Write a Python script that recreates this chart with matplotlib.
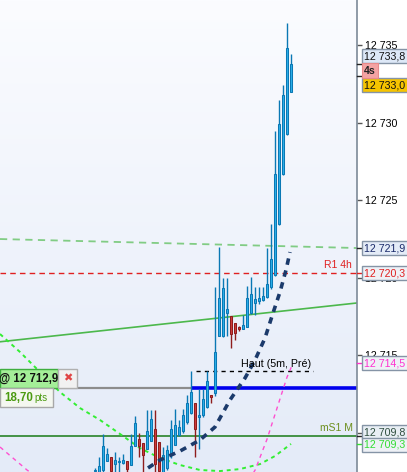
import matplotlib
matplotlib.use("Agg")
import matplotlib.pyplot as plt
import numpy as np
from matplotlib.patches import Rectangle
from matplotlib.colors import LinearSegmentedColormap
from matplotlib.transforms import blended_transform_factory

plt.rcParams['font.family'] = ['Liberation Sans', 'DejaVu Sans']

# 4 s candles, left to right
opens = [12707.55, 12707.49, 12707.62, 12708.21, 12708.45, 12708.00, 12708.11, 12708.09, 12708.19, 12707.96,
         12709.16, 12709.61, 12709.36, 12708.97, 12709.48, 12710.26, 12709.42, 12707.49, 12707.75, 12708.61,
         12709.25, 12709.89, 12710.13, 12710.71, 12711.31, 12711.95, 12711.05, 12711.14, 12711.69, 12712.47,
         12712.58, 12716.25, 12716.25, 12717.73, 12717.54, 12717.11, 12716.85, 12716.72, 12716.85, 12717.75,
         12718.38, 12718.50, 12718.57, 12718.76, 12719.41, 12720.18, 12723.47, 12726.69, 12729.27, 12731.99]
closes = [12707.65, 12707.87, 12709.16, 12708.65, 12707.55, 12708.26, 12708.21, 12708.26, 12707.70, 12709.16,
          12710.64, 12709.16, 12708.61, 12710.13, 12710.90, 12708.00, 12707.55, 12708.58, 12708.90, 12710.26,
          12710.52, 12710.39, 12711.18, 12711.95, 12712.64, 12710.26, 12711.14, 12712.21, 12713.35, 12712.34,
          12715.22, 12718.70, 12719.34, 12717.99, 12716.38, 12716.46, 12716.72, 12716.96, 12718.70, 12718.96,
          12718.63, 12718.70, 12718.83, 12719.60, 12721.21, 12726.69, 12729.91, 12731.78, 12734.81, 12733.80]
highs = [12707.75, 12708.47, 12709.94, 12709.03, 12708.45, 12708.80, 12708.47, 12708.65, 12708.19, 12709.94,
         12711.08, 12710.00, 12709.36, 12711.48, 12711.48, 12711.48, 12709.42, 12709.10, 12709.20, 12710.84,
         12711.55, 12710.84, 12711.55, 12712.47, 12713.98, 12711.95, 12712.85, 12712.85, 12713.98, 12712.47,
         12719.41, 12722.00, 12719.99, 12719.99, 12717.54, 12717.11, 12716.90, 12717.60, 12719.47, 12720.05,
         12719.41, 12719.41, 12719.41, 12721.92, 12723.47, 12729.48, 12731.46, 12732.42, 12736.44, 12734.42]
lows = [12707.40, 12707.40, 12707.50, 12708.21, 12707.40, 12707.49, 12707.49, 12708.00, 12707.49, 12707.96,
        12709.16, 12708.47, 12707.49, 12708.97, 12709.48, 12707.29, 12707.30, 12707.30, 12707.60, 12708.40,
        12709.25, 12709.80, 12710.00, 12710.60, 12711.20, 12708.47, 12708.99, 12711.05, 12711.60, 12711.93,
        12712.40, 12716.25, 12716.20, 12716.25, 12715.48, 12715.99, 12716.60, 12716.70, 12716.80, 12717.70,
        12717.60, 12718.30, 12718.50, 12718.70, 12719.30, 12720.10, 12723.40, 12726.60, 12729.20, 12731.99]

# levels
r1_4h = 12720.3
ms1_m = 12709.8
entry_price = 12712.9
entry_bar = 24.5
gain_pts = "18,70"
high_5m = 12713.98
high_5m_span = [25.25, 54.5]

trend_line_x = [-23.75, 65.5]
trend_line_y = [12715.88, 12718.38]
trend_dash_x = [-23.75, 65.5]
trend_dash_y = [12722.50, 12721.92]

navy_x = [13.25, 16.25, 21.25, 26.25, 30.0, 33.75, 37.5, 40.0, 42.5, 44.5, 46.25, 47.75, 48.75]
navy_y = [12707.75, 12708.26, 12708.84, 12709.55, 12710.39, 12712.13, 12713.54, 12714.70, 12716.12,
          12717.73, 12719.09, 12720.50, 12721.66]
lime_x = [-23.75, -18.75, -13.75, -8.75, -3.75, 1.25, 6.25, 11.25, 16.25, 21.25, 26.25, 31.25, 36.25,
          41.25, 45.0, 49.0]
lime_y = [12716.38, 12715.22, 12713.93, 12712.64, 12711.61, 12710.84, 12709.94, 12709.03, 12708.39,
          12707.94, 12707.62, 12707.55, 12707.68, 12708.00, 12708.52, 12709.30]
pink_x = [-23.75, -17.0, -10.0, 0.0, 10.0, 20.0, 30.0, 36.0, 40.0, 43.0, 46.0, 48.0, 49.5]
pink_y = [12709.10, 12707.62, 12706.30, 12705.00, 12704.30, 12704.00, 12704.60, 12706.00, 12707.60,
          12709.60, 12712.00, 12713.60, 12714.50]

tick_prices = [12710, 12715, 12720, 12725, 12730, 12735]

X0, X1 = -23.75, 65.5
Y0, Y1 = 12707.49, 12737.90
ppx = (Y1 - Y0) / 472.0   # price per pixel
bpx = (X1 - X0) / 357.0   # bars per pixel

fig = plt.figure(figsize=(4.07, 4.72), dpi=100)
fig.patch.set_facecolor('white')
ax = fig.add_axes([0, 0, 357 / 407, 1])

bg = LinearSegmentedColormap.from_list('bg', ['#fbfcff', '#e4ebf8'])
ax.imshow(np.linspace(0, 1, 256).reshape(-1, 1), cmap=bg, extent=[X0, X1, Y0, Y1],
          aspect='auto', origin='upper', zorder=0)

# levels and trend lines
ax.plot(trend_dash_x, trend_dash_y, color='#5cc05c', lw=1.3, ls=(0, (4, 3)), alpha=0.75, zorder=1)
ax.plot(trend_line_x, trend_line_y, color='#4cb84c', lw=1.2, zorder=1)
ax.axhline(r1_4h, color='#e02020', lw=1, ls=(0, (4, 3)), zorder=1)
ax.axhline(ms1_m, color='#177a17', lw=1.1, zorder=1)
ax.plot([X0, entry_bar], [entry_price, entry_price], color='#8c8c8c', lw=1.6, zorder=1)
ax.plot([entry_bar, X1], [entry_price, entry_price], color='#0000ee', lw=2.6, zorder=2)
ax.plot(high_5m_span, [high_5m, high_5m], color='black', lw=1, ls=(0, (3, 3)), zorder=2)

ax.plot(lime_x, lime_y, color='#33ee33', lw=1.4, ls=(0, (2, 2)), zorder=2)
ax.plot(pink_x, pink_y, color='#ff4fd0', lw=1, ls=(0, (3, 3)), zorder=2)

# candles
for i, (o, h, l, c) in enumerate(zip(opens, highs, lows, closes)):
    up = c >= o
    fc = '#2cb0ea' if up else '#d03c3c'
    ec = '#0a78b4' if up else '#8e1d1d'
    ax.vlines(i, l, h, color=ec, lw=1.0, zorder=3)
    ax.add_patch(Rectangle((i - 0.25, min(o, c)), 0.5, max(abs(c - o), 0.07),
                           fc=fc, ec=ec, lw=0.75, zorder=4))

ax.plot(navy_x, navy_y, color='#1b3a6b', lw=2.6, ls=(0, (1.8, 1.6)), zorder=5)

# chart texts
ax.text(X0 + 352 * bpx, r1_4h + 3 * ppx, "R1 4h", color='#e02020', fontsize=7.5,
        ha='right', va='bottom', zorder=6)
ax.text(X0 + 353 * bpx, ms1_m + 3 * ppx, "mS1 M", color='#6d8f1d', fontsize=7.5,
        ha='right', va='bottom', zorder=6)
ax.text(high_5m_span[0] + 11.2, high_5m + 2 * ppx, "Haut (5m, Pré)", color='black', fontsize=7.7,
        ha='left', va='bottom', zorder=6)

# position box
ax.add_patch(Rectangle((X0, entry_price), 58 * bpx, 19 * ppx, fc='#a4ee98', ec='#3fae3f',
                       lw=1, zorder=7))
ax.text(X0 - 1 * bpx, entry_price + 9.5 * ppx, "@ 12 712,9", fontsize=8.3, fontweight='bold',
        color='#111111', va='center', ha='left', zorder=8)
ax.add_patch(Rectangle((X0 + 58 * bpx, entry_price), 19 * bpx, 19 * ppx, fc='#f1f1f1', ec='#b0b0b0',
                       lw=1, zorder=7))
ax.text(X0 + 67.5 * bpx, entry_price + 9.5 * ppx, "\u2716", fontsize=8, color='#e04545',
        family='DejaVu Sans', va='center', ha='center', zorder=8)
ax.add_patch(Rectangle((X0, entry_price - 19 * ppx), 53 * bpx, 19 * ppx, fc='#f4f7f0', ec='#a8a8a8',
                       lw=1, zorder=7))
ax.text(X0 + 4 * bpx, entry_price - 9.5 * ppx, gain_pts, fontsize=8.3, fontweight='bold',
        color='#4a9a10', va='center', ha='left', zorder=8)
ax.text(X0 + 34 * bpx, entry_price - 10 * ppx, "pts", fontsize=7, color='#4a9a10',
        va='center', ha='left', zorder=8)

ax.set_xlim(X0, X1)
ax.set_ylim(Y0, Y1)
for s in ['left', 'top', 'bottom']:
    ax.spines[s].set_visible(False)
ax.spines['right'].set_color('#7d8a98')
ax.spines['right'].set_linewidth(1.2)
ax.set_xticks([])
ax.yaxis.tick_right()
ax.set_yticks(tick_prices)
ax.set_yticklabels([f"{v:,}".replace(',', ' ') for v in tick_prices])
ax.tick_params(axis='y', length=3.6, width=1, color='#555555', pad=2.2, labelsize=7.7,
               labelcolor='black')

# price tags on the right axis
blend = blended_transform_factory(ax.transAxes, ax.transData)


def tag(price, text, fc, tc, dy=0.0, ec='#8594a6', x0=362, w=60, tick='#222222'):
    yc = price - dy * ppx
    ax.plot([1.0, x0 / 357], [price, price], color=tick, lw=1, transform=blend,
            clip_on=False, zorder=6)
    ax.add_patch(Rectangle((x0 / 357, yc - 7 * ppx), w / 357, 14 * ppx, fc=fc, ec=ec, lw=1,
                           transform=blend, clip_on=False, zorder=7))
    ax.text((x0 + 2.5) / 357, yc, text, color=tc, fontsize=7.7, va='center', ha='left',
            transform=blend, clip_on=False, zorder=8)


tag(12733.8, "12 733,8", '#dde8f7', '#111111', dy=-7.6)
tag(12733.0, "12 733,0", '#f6c400', '#111111', dy=9)
ax.add_patch(Rectangle((362 / 357, 12733.8 - 14.5 * ppx), 16 / 357, 15 * ppx, fc='#f4a3a3',
                       ec='#e88a8a', lw=0.8, transform=blend, clip_on=False, zorder=9))
ax.text(364 / 357, 12733.8 - 7 * ppx, "4s", color='#222222', fontsize=7.6, fontweight='bold',
        va='center', ha='left', transform=blend, clip_on=False, zorder=10)
tag(12721.9, "12 721,9", '#e4ecf7', '#1a2a6a')
tag(r1_4h, "12 720,3", '#eef1f6', '#e02020', tick='#e02020')
tag(12714.5, "12 714,5", '#eef1f6', '#ff30d0', tick='#ff30d0')
tag(ms1_m, "12 709,8", '#e8eef4', '#2f4f3f', dy=-4)
tag(12709.3, "12 709,3", '#eef1f6', '#33dd33', dy=1, tick='#33dd33')

fig.savefig("out.png", dpi=100)
